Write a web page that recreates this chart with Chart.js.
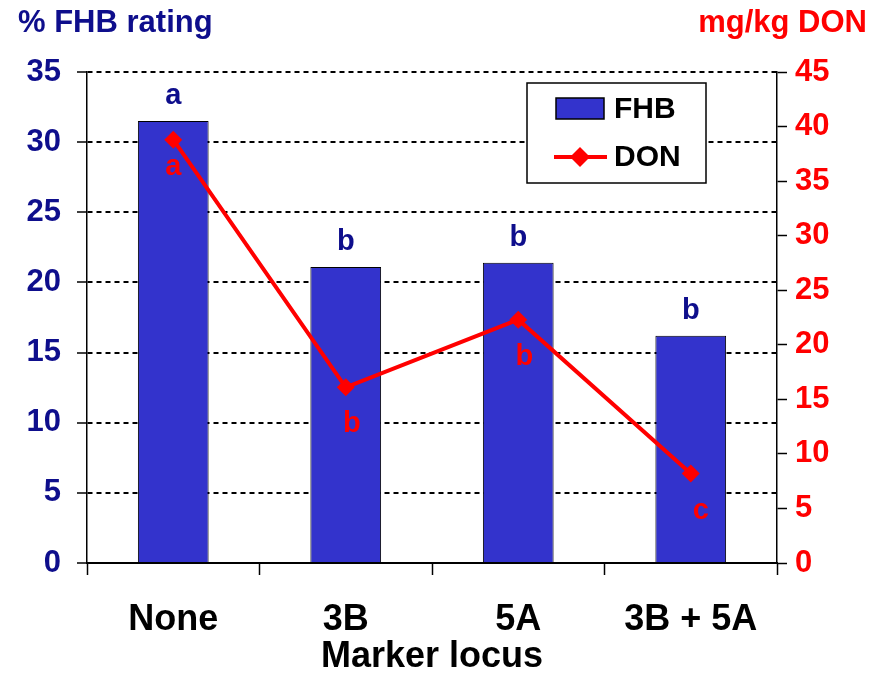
<!DOCTYPE html>
<html>
<head>
<meta charset="utf-8">
<script src="https://cdn.jsdelivr.net/npm/chart.js@4"></script>
<style>
  html, body { margin: 0; padding: 0; background: #fff; }
  #wrap { width: 871px; height: 675px; }
</style>
</head>
<body>
<div id="wrap"><canvas id="chart" width="871" height="675"></canvas></div>
<script>
// values
const loci = ['None', '3B', '5A', '3B + 5A'];
const fhbRating = [31.5, 21.1, 21.4, 16.2];   // % FHB rating, left axis
const donLevel = [38.8, 16.1, 22.3, 8.2];     // mg/kg DON, right axis
const fhbLetters = ['a', 'b', 'b', 'b'];
const donLetters = ['a', 'b', 'b', 'c'];

const NAVY = '#0e0e8c';
const RED = '#ff0000';
const FONT = '"Liberation Sans", Arial, sans-serif';

const extras = {
  id: 'extras',
  afterDatasetsDraw(chart) {
    const ctx = chart.ctx;
    const x = chart.scales.x, y = chart.scales.y, y1 = chart.scales.y1;
    ctx.save();
    ctx.font = 'bold 29px ' + FONT;
    ctx.textAlign = 'center';
    ctx.textBaseline = 'middle';
    loci.forEach((c, i) => {
      const px = x.getPixelForValue(i);
      ctx.fillStyle = NAVY;
      ctx.fillText(fhbLetters[i], px, y.getPixelForValue(fhbRating[i]) - 25);
      ctx.fillStyle = RED;
      const dx = i === 0 ? 0 : (i === 3 ? 10 : 6);
      const dy = i === 0 ? 27 : 37;
      ctx.fillText(donLetters[i], px + dx, y1.getPixelForValue(donLevel[i]) + dy);
    });
    ctx.restore();
  },
  afterDraw(chart) {
    const ctx = chart.ctx;
    ctx.save();
    // axis titles at the top
    ctx.font = 'bold 31px ' + FONT;
    ctx.textBaseline = 'middle';
    ctx.fillStyle = NAVY;
    ctx.textAlign = 'left';
    ctx.fillText('% FHB rating', 18, 23);
    ctx.fillStyle = RED;
    ctx.textAlign = 'right';
    ctx.fillText('mg/kg DON', 867, 23);

    // legend box
    ctx.fillStyle = '#fff';
    ctx.fillRect(527, 83, 179, 100);
    ctx.strokeStyle = '#000';
    ctx.lineWidth = 1.5;
    ctx.strokeRect(527, 83, 179, 100);
    ctx.fillStyle = '#3333cc';
    ctx.fillRect(556, 98, 48, 21);
    ctx.strokeRect(556, 98, 48, 21);
    ctx.strokeStyle = RED;
    ctx.lineWidth = 4;
    ctx.beginPath();
    ctx.moveTo(554, 157);
    ctx.lineTo(607, 157);
    ctx.stroke();
    ctx.fillStyle = RED;
    ctx.beginPath();
    ctx.moveTo(580, 147); ctx.lineTo(590, 157); ctx.lineTo(580, 167); ctx.lineTo(570, 157);
    ctx.closePath();
    ctx.fill();
    ctx.fillStyle = '#000';
    ctx.textAlign = 'left';
    ctx.font = 'bold 30px ' + FONT;
    ctx.fillText('FHB', 614, 110);
    ctx.fillText('DON', 614, 158);
    ctx.restore();
  }
};

new Chart(document.getElementById('chart'), {
  type: 'bar',
  data: {
    labels: loci,
    datasets: [
      {
        type: 'line',
        label: 'DON',
        data: donLevel,
        yAxisID: 'y1',
        borderColor: RED,
        backgroundColor: RED,
        borderWidth: 4,
        pointStyle: 'rectRot',
        pointRadius: 9,
        pointBorderWidth: 0,
        tension: 0,
        order: 0
      },
      {
        label: 'FHB',
        data: fhbRating,
        yAxisID: 'y',
        backgroundColor: '#3333cc',
        borderColor: '#000',
        borderWidth: 1,
        barPercentage: 0.41,
        categoryPercentage: 1,
        order: 1
      }
    ]
  },
  options: {
    responsive: false,
    animation: false,
    layout: { padding: { top: 72, left: 0, right: 0, bottom: 0 } },
    plugins: {
      legend: { display: false },
      tooltip: { enabled: false }
    },
    scales: {
      x: {
        afterFit: s => { s.height = 112; },
        grid: {
          offset: true,
          drawOnChartArea: false,
          drawTicks: true,
          tickLength: 12,
          tickColor: '#000',
          tickWidth: 1.5
        },
        border: { color: '#000', width: 2 },
        ticks: {
          color: '#000',
          font: { family: FONT, size: 36, weight: 'bold' },
          padding: 23
        },
        title: {
          display: true,
          text: 'Marker locus',
          color: '#000',
          font: { family: FONT, size: 36, weight: 'bold' },
          padding: { top: 0, bottom: -4 }
        }
      },
      y: {
        position: 'left',
        min: 0,
        max: 35,
        afterFit: s => { s.width = 87; },
        ticks: {
          stepSize: 5,
          color: NAVY,
          font: { family: FONT, size: 31, weight: 'bold' },
          padding: 16
        },
        grid: {
          color: '#000',
          lineWidth: 2,
          tickLength: 10,
          tickColor: '#000',
          tickWidth: 1.5
        },
        border: { color: '#000', width: 1.5, dash: [5, 4] }
      },
      y1: {
        position: 'right',
        min: 0,
        max: 45,
        afterFit: s => { s.width = 94; },
        ticks: {
          stepSize: 5,
          color: RED,
          font: { family: FONT, size: 31, weight: 'bold' },
          padding: 8
        },
        grid: {
          drawOnChartArea: false,
          tickLength: 10,
          tickColor: '#000',
          tickWidth: 1.5
        },
        border: { color: '#000', width: 1.5 }
      }
    }
  },
  plugins: [extras]
});
</script>
</body>
</html>
